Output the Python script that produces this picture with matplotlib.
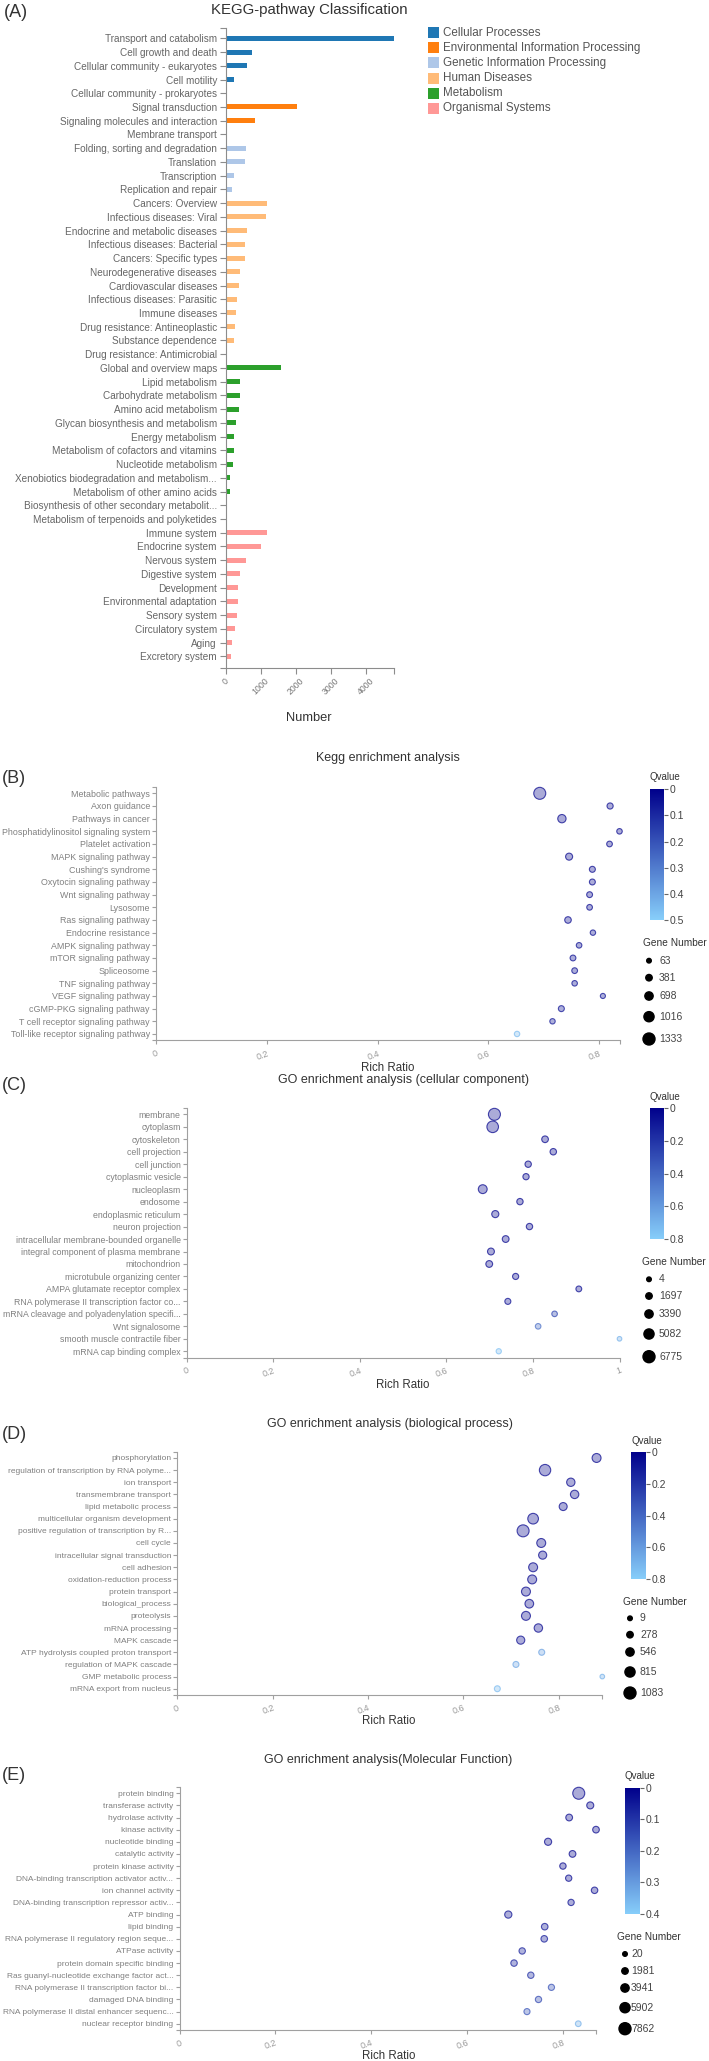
import numpy as np
import matplotlib
matplotlib.use("Agg")
import matplotlib.pyplot as plt
from matplotlib.colors import LinearSegmentedColormap, Normalize
from matplotlib.patches import Rectangle
import matplotlib.cm as cm

plt.rcParams['font.family'] = ['Liberation Sans', 'DejaVu Sans']

# ---------------- Panel A data ----------------
kegg_groups = ["Cellular Processes", "Environmental Information Processing",
               "Genetic Information Processing", "Human Diseases", "Metabolism",
               "Organismal Systems"]
kegg_group_colors = ["#1f77b4", "#ff7f0e", "#aec7e8", "#ffbb78", "#2ca02c", "#ff9896"]
kegg_terms = [
    "Transport and catabolism", "Cell growth and death", "Cellular community - eukaryotes",
    "Cell motility", "Cellular community - prokaryotes",
    "Signal transduction", "Signaling molecules and interaction", "Membrane transport",
    "Folding, sorting and degradation", "Translation", "Transcription", "Replication and repair",
    "Cancers: Overview", "Infectious diseases: Viral", "Endocrine and metabolic diseases",
    "Infectious diseases: Bacterial", "Cancers: Specific types", "Neurodegenerative diseases",
    "Cardiovascular diseases", "Infectious diseases: Parasitic", "Immune diseases",
    "Drug resistance: Antineoplastic", "Substance dependence", "Drug resistance: Antimicrobial",
    "Global and overview maps", "Lipid metabolism", "Carbohydrate metabolism",
    "Amino acid metabolism", "Glycan biosynthesis and metabolism", "Energy metabolism",
    "Metabolism of cofactors and vitamins", "Nucleotide metabolism",
    "Xenobiotics biodegradation and metabolism...", "Metabolism of other amino acids",
    "Biosynthesis of other secondary metabolit...", "Metabolism of terpenoids and polyketides",
    "Immune system", "Endocrine system", "Nervous system", "Digestive system", "Development",
    "Environmental adaptation", "Sensory system", "Circulatory system", "Aging",
    "Excretory system"]
kegg_term_group = [0]*5 + [1]*3 + [2]*4 + [3]*12 + [4]*12 + [5]*10
kegg_counts = [4800, 740, 610, 220, 3,
               2030, 830, 40,
               570, 540, 240, 180,
               1180, 1150, 590, 545, 540, 390, 365, 315, 300, 265, 235, 3,
               1590, 410, 390, 380, 285, 220, 220, 210, 125, 105, 25, 25,
               1170, 1000, 560, 400, 350, 340, 320, 255, 170, 140]
kegg_xticks = [0, 1000, 2000, 3000, 4000]

# ---------------- Panel B data ----------------
b_terms = ["Metabolic pathways", "Axon guidance", "Pathways in cancer",
           "Phosphatidylinositol signaling system", "Platelet activation",
           "MAPK signaling pathway", "Cushing's syndrome", "Oxytocin signaling pathway",
           "Wnt signaling pathway", "Lysosome", "Ras signaling pathway",
           "Endocrine resistance", "AMPK signaling pathway", "mTOR signaling pathway",
           "Spliceosome", "TNF signaling pathway", "VEGF signaling pathway",
           "cGMP-PKG signaling pathway", "T cell receptor signaling pathway",
           "Toll-like receptor signaling pathway"]
b_rich = [0.693, 0.820, 0.733, 0.837, 0.819, 0.746, 0.788, 0.788, 0.783, 0.783,
          0.744, 0.789, 0.764, 0.753, 0.756, 0.756, 0.807, 0.732, 0.716, 0.652]
b_genes = [1333, 330, 700, 220, 250, 480, 300, 290, 280, 250,
           400, 200, 230, 270, 260, 220, 150, 300, 200, 200]
b_qvalue = [0.0, 0.01, 0.0, 0.01, 0.01, 0.0, 0.01, 0.01, 0.01, 0.01,
            0.01, 0.02, 0.02, 0.02, 0.02, 0.02, 0.03, 0.03, 0.04, 0.45]
b_qticks = [0, 0.1, 0.2, 0.3, 0.4, 0.5]
b_gene_legend = [63, 381, 698, 1016, 1333]

# ---------------- Panel C data ----------------
c_terms = ["membrane", "cytoplasm", "cytoskeleton", "cell projection", "cell junction",
           "cytoplasmic vesicle", "nucleoplasm", "endosome", "endoplasmic reticulum",
           "neuron projection", "intracellular membrane-bounded organelle",
           "integral component of plasma membrane", "mitochondrion",
           "microtubule organizing center", "AMPA glutamate receptor complex",
           "RNA polymerase II transcription factor co...",
           "mRNA cleavage and polyadenylation specifi...", "Wnt signalosome",
           "smooth muscle contractile fiber", "mRNA cap binding complex"]
c_rich = [0.711, 0.707, 0.828, 0.847, 0.789, 0.784, 0.684, 0.770, 0.713, 0.792,
          0.737, 0.703, 0.699, 0.760, 0.906, 0.742, 0.850, 0.812, 1.0, 0.721]
c_genes = [6775, 6400, 1900, 1700, 1600, 1500, 3900, 1600, 2300, 1600,
           2000, 2100, 2000, 1400, 1100, 1300, 900, 900, 4, 600]
c_qvalue = [0.0, 0.0, 0.0, 0.0, 0.0, 0.0, 0.0, 0.0, 0.0, 0.0,
            0.0, 0.0, 0.0, 0.01, 0.02, 0.03, 0.25, 0.42, 0.68, 0.74]
c_qticks = [0, 0.2, 0.4, 0.6, 0.8]
c_gene_legend = [4, 1697, 3390, 5082, 6775]

# ---------------- Panel D data ----------------
d_terms = ["phosphorylation", "regulation of transcription by RNA polyme...", "ion transport",
           "transmembrane transport", "lipid metabolic process",
           "multicellular organism development",
           "positive regulation of transcription by R...", "cell cycle",
           "intracellular signal transduction", "cell adhesion", "oxidation-reduction process",
           "protein transport", "biological_process", "proteolysis", "mRNA processing",
           "MAPK cascade", "ATP hydrolysis coupled proton transport",
           "regulation of MAPK cascade", "GMP metabolic process", "mRNA export from nucleus"]
d_rich = [0.879, 0.771, 0.825, 0.833, 0.809, 0.746, 0.725, 0.763, 0.766, 0.746,
          0.744, 0.731, 0.738, 0.731, 0.757, 0.720, 0.764, 0.710, 0.891, 0.671]
d_genes = [640, 990, 550, 560, 500, 890, 1083, 640, 520, 640,
           640, 640, 600, 640, 560, 520, 210, 210, 9, 200]
d_qvalue = [0.0, 0.0, 0.0, 0.0, 0.0, 0.0, 0.0, 0.0, 0.0, 0.0,
            0.0, 0.0, 0.0, 0.0, 0.01, 0.02, 0.62, 0.64, 0.68, 0.72]
d_qticks = [0, 0.2, 0.4, 0.6, 0.8]
d_gene_legend = [9, 278, 546, 815, 1083]

# ---------------- Panel E data ----------------
e_terms = ["protein binding", "transferase activity", "hydrolase activity", "kinase activity",
           "nucleotide binding", "catalytic activity", "protein kinase activity",
           "DNA-binding transcription activator activ...", "ion channel activity",
           "DNA-binding transcription repressor activ...", "ATP binding", "lipid binding",
           "RNA polymerase II regulatory region seque...", "ATPase activity",
           "protein domain specific binding", "Ras guanyl-nucleotide exchange factor act...",
           "RNA polymerase II transcription factor bi...", "damaged DNA binding",
           "RNA polymerase II distal enhancer sequenc...", "nuclear receptor binding"]
e_rich = [0.833, 0.857, 0.813, 0.869, 0.769, 0.820, 0.800, 0.812, 0.866, 0.817,
          0.686, 0.762, 0.761, 0.715, 0.698, 0.733, 0.776, 0.749, 0.725, 0.832]
e_genes = [7862, 2600, 2300, 2200, 2700, 2300, 1900, 1800, 2000, 1800,
           2800, 2100, 2100, 1900, 2000, 1900, 1700, 1800, 1600, 1200]
e_qvalue = [0.0, 0.0, 0.0, 0.0, 0.0, 0.0, 0.0, 0.01, 0.01, 0.02,
            0.02, 0.03, 0.04, 0.05, 0.05, 0.08, 0.15, 0.13, 0.16, 0.34]
e_qticks = [0, 0.1, 0.2, 0.3, 0.4]
e_gene_legend = [20, 1981, 3941, 5902, 7862]
rich_ticks = [0, 0.2, 0.4, 0.6, 0.8, 1.0]

# ---------------- figure helpers ----------------
W, H = 709, 2061
fig = plt.figure(figsize=(W / 100, H / 100), dpi=100)
PT = 0.72  # points per pixel


def px_axes(l, t, r, b, **kw):
    return fig.add_axes([l / W, 1 - b / H, (r - l) / W, (b - t) / H], **kw)


overlay = fig.add_axes([0, 0, 1, 1], zorder=10)
overlay.set_xlim(0, W)
overlay.set_ylim(H, 0)
overlay.axis('off')


def ptext(x, y, s, **kw):
    overlay.text(x, y, s, **kw)


AXC = '#a0a0a0'
TXT = '#333333'

# ---------------- Panel A ----------------
axA = px_axes(226, 28, 393.5, 667.7)
nA = len(kegg_terms)
yA = np.arange(nA)
axA.barh(yA, kegg_counts, height=0.36,
         color=[kegg_group_colors[g] for g in kegg_term_group], zorder=2)
axA.set_xlim(0, max(kegg_counts))
axA.set_ylim(nA - 1 + 0.83, -0.75)
axA.set_yticks(list(yA) + [-0.75, nA - 1 + 0.83], labels=kegg_terms + ['', ''])
axA.set_xticks(kegg_xticks + [max(kegg_counts)],
               labels=[str(v) for v in kegg_xticks] + [''])
for s in ['top', 'right']:
    axA.spines[s].set_visible(False)
for s in ['left', 'bottom']:
    axA.spines[s].set_color('#8c8c8c')
    axA.spines[s].set_linewidth(0.8)
axA.tick_params(axis='y', length=4.3, width=0.8, color='#8c8c8c', labelsize=7.2,
                labelcolor='#666666', pad=2.2)
axA.tick_params(axis='x', length=4.3, width=0.8, color='#8c8c8c', labelsize=6.3,
                labelcolor='#777777', pad=2)
plt.setp(axA.get_xticklabels(), rotation=45, ha='center')
axA.patch.set_alpha(0)

ptext(4, 12.5, "(A)", fontsize=13, color=TXT, va='center', ha='left')
ptext(309, 10, "KEGG-pathway Classification", fontsize=10.8, color=TXT,
      va='center', ha='center')
ptext(309, 718, "Number", fontsize=9.3, color=TXT, va='center', ha='center')

for i, (g, c) in enumerate(zip(kegg_groups, kegg_group_colors)):
    yy = 32.7 + 15.1 * i
    overlay.add_patch(Rectangle((427.7, yy - 5.5), 11, 11, color=c, lw=0))
    ptext(442.7, yy, g, fontsize=8.4, color='#555555', va='center', ha='left')

# ---------------- dot panels ----------------
cmap = LinearSegmentedColormap.from_list('qv', ['#00008b', '#87cefa'])
RMIN, RMAX = 2.3, 6.0


def size_pts(g, gl):
    g = np.asarray(g, dtype=float)
    r = RMIN + (g - gl[0]) / (gl[-1] - gl[0]) * (RMAX - RMIN)
    return (2 * r * PT) ** 2


def dot_panel(terms, rich, genes, qv, qticks, glegend, box, label, title, title_xy,
              label_y, xlabel_xy, cbar_box, qlabel_xy, glabel_xy, gcirc_x, gtext_x, gys,
              ylab_size=6.4):
    ax = px_axes(*box)
    n = len(terms)
    y = np.arange(n)
    norm = Normalize(0, qticks[-1])
    cols = cmap(norm(np.asarray(qv)))
    face = cols.copy()
    face[:, 3] = 0.33
    edge = cols.copy()
    edge[:, 3] = 0.7
    ax.scatter(rich, y, s=size_pts(genes, glegend), c=face, edgecolors=edge,
               linewidths=0.8, zorder=3, clip_on=False)
    xmax = max(rich)
    ax.set_xlim(0, xmax)
    ax.set_ylim(n - 0.5, -0.5)
    ax.set_yticks(list(y) + [-0.5, n - 0.5], labels=list(terms) + ['', ''])
    xt = [t for t in rich_ticks if t <= xmax + 1e-9]
    labs = ['0' if t == 0 else ('1' if t == 1 else f"{t:.1f}") for t in xt]
    if abs(xt[-1] - xmax) > 1e-6:
        xt = xt + [xmax]
        labs = labs + ['']
    ax.set_xticks(xt, labels=labs)
    for s in ['top', 'right']:
        ax.spines[s].set_visible(False)
    for s in ['left', 'bottom']:
        ax.spines[s].set_color(AXC)
        ax.spines[s].set_linewidth(0.8)
    ax.tick_params(axis='y', length=3.0, width=0.8, color=AXC, labelsize=ylab_size,
                   labelcolor='#808080', pad=1.4)
    ax.tick_params(axis='x', length=3.2, width=0.8, color=AXC, labelsize=6.5,
                   labelcolor='#999999', pad=3)
    plt.setp(ax.get_xticklabels(), rotation=20, ha='right', rotation_mode='anchor')
    ax.patch.set_alpha(0)

    ptext(2, label_y, label, fontsize=13, color=TXT, va='center', ha='left')
    ptext(title_xy[0], title_xy[1], title, fontsize=9, color=TXT, va='center', ha='center')
    ptext(xlabel_xy[0], xlabel_xy[1], "Rich Ratio", fontsize=8.3, color=TXT,
          va='center', ha='center')

    cax = px_axes(*cbar_box)
    cb = fig.colorbar(cm.ScalarMappable(norm=norm, cmap=cmap), cax=cax)
    cb.outline.set_visible(False)
    cax.set_ylim(qticks[-1], 0)
    cb.set_ticks(qticks)
    cb.set_ticklabels(['0'] + [f"{t:.1f}" for t in qticks[1:]])
    cax.tick_params(length=3, width=0.8, color='#666666', labelsize=7.5,
                    labelcolor='#444444', pad=1)
    ptext(qlabel_xy[0], qlabel_xy[1], "Qvalue", fontsize=7, color=TXT, va='center', ha='center')
    ptext(glabel_xy[0], glabel_xy[1], "Gene Number", fontsize=7.3, color=TXT,
          va='center', ha='center')
    overlay.scatter([gcirc_x] * len(glegend), gys, s=size_pts(glegend, glegend),
                    color='black', zorder=5)
    for v, yy in zip(glegend, gys):
        ptext(gtext_x, yy, str(v), fontsize=7.5, color='#444444', va='center', ha='left')


dot_panel(b_terms, b_rich, b_genes, b_qvalue, b_qticks, b_gene_legend,
          (156, 787, 619.5, 1040.3), "(B)", "Kegg enrichment analysis", (388, 758),
          778.5, (387.5, 1067.7), (650, 789.3, 664, 920), (665, 777), (675, 942.7),
          649, 659, [960.7, 977.7, 996, 1016.7, 1039])

dot_panel(c_terms, c_rich, c_genes, c_qvalue, c_qticks, c_gene_legend,
          (186.7, 1108.1, 619.5, 1357.5), "(C)",
          "GO enrichment analysis (cellular component)", (403.6, 1080),
          1086, (402.5, 1385), (650, 1107.7, 664, 1239.3), (665, 1096.7), (674, 1261.7),
          649, 659, [1279.3, 1296, 1314, 1334, 1356.7], ylab_size=6.3)

dot_panel(d_terms, d_rich, d_genes, d_qvalue, d_qticks, d_gene_legend,
          (177.2, 1451.9, 602.3, 1694.8), "(D)",
          "GO enrichment analysis (biological process)", (390, 1424),
          1434.5, (389, 1721), (631, 1452, 646, 1579.3), (646.5, 1440.7), (654.5, 1601.7),
          630, 640, [1618.3, 1634.7, 1652, 1672, 1693], ylab_size=6.05)

dot_panel(e_terms, e_rich, e_genes, e_qvalue, e_qticks, e_gene_legend,
          (179.5, 1787.2, 596, 2029.8), "(E)",
          "GO enrichment analysis(Molecular Function)", (388, 1760),
          1775.5, (389, 2055.7), (625, 1787.7, 640, 1914), (640, 1776), (649, 1937.3),
          625, 631, [1954, 1971, 1988, 2007.7, 2028.7], ylab_size=6.05)

fig.savefig("out.png", dpi=100)
